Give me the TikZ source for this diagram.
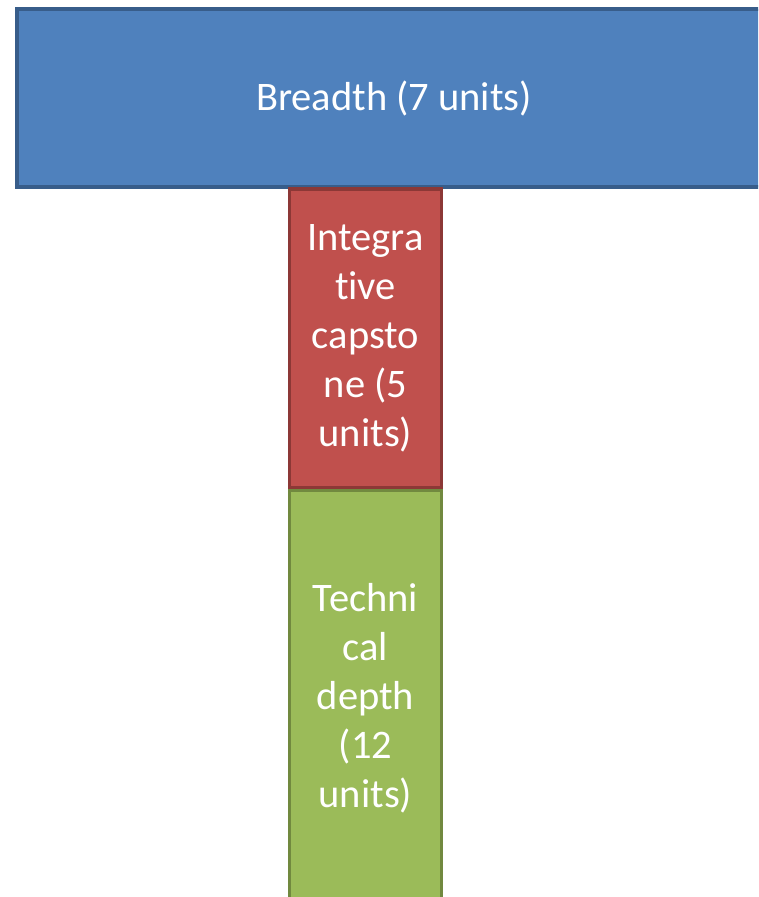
\documentclass[tikz,border=0pt]{standalone}
\usepackage{fontspec}
\setmainfont[Ligatures={NoCommon}]{Carlito}
\usetikzlibrary{positioning}
\definecolor{bleu}{RGB}{79,129,189}
\definecolor{bleubord}{RGB}{56,93,138}
\definecolor{rouge}{RGB}{192,80,77}
\definecolor{rougebord}{RGB}{140,56,54}
\definecolor{vert}{RGB}{155,187,89}
\definecolor{vertbord}{RGB}{113,137,63}

\begin{document}
\begin{tikzpicture}[x=1pt,y=-1pt,
    bloc/.style={rectangle,line width=3.5pt,text=white,align=center,
                 inner sep=0pt,font=\fontsize{40.5}{49}\selectfont}]
      \useasboundingbox (0,0) rectangle (758,897);
      \clip (0,0) rectangle (758,897);
      % barre du haut
      \node[bloc,fill=bleu,draw=bleubord,minimum width=754pt,minimum height=178pt]
           (breadth) at (394,98) {Breadth (7 units)};
      % colonne : capstone puis profondeur
      \node[bloc,fill=rouge,draw=rougebord,minimum width=152pt,minimum height=299pt,
            anchor=north] (capstone) at (365.5,187)
           {Integra\\tive\\capsto\\ne (5\\units)};
      \node[bloc,fill=vert,draw=vertbord,minimum width=152pt,minimum height=416pt,
            below=-1pt of capstone] (depth)
           {Techni\\cal\\depth\\(12\\units)};
    \end{tikzpicture}
\end{document}
